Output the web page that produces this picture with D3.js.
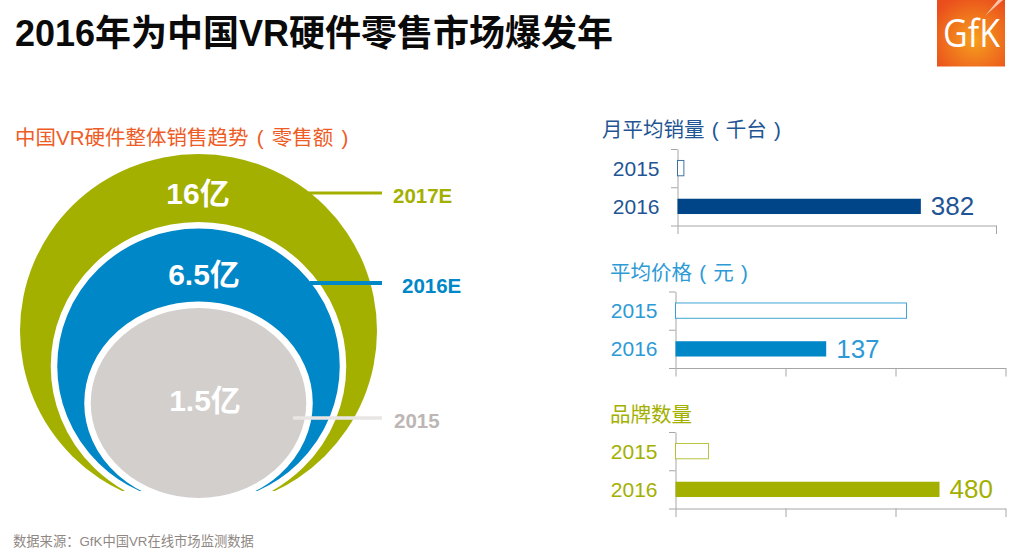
<!DOCTYPE html>
<html>
<head>
<meta charset="utf-8">
<script src="https://cdnjs.cloudflare.com/ajax/libs/d3/7.8.5/d3.min.js"></script>
<style>
    html, body { margin: 0; padding: 0; background: #fff; }
    svg { display: block; }
    text { font-family: "Liberation Sans", "Noto Sans CJK SC", sans-serif; }
    .axis path, .axis line { stroke: #a6a6a6; stroke-width: 1; }
</style>
</head>
<body>
<svg id="grafico" width="1024" height="555"></svg>
<script>
// dados
const years = ["2015", "2016"];
const salesValues = [10, 382];
const priceValues = [210, 137];
const brandValues = [60, 480];
const salesTicks = [0, 500];
const priceTicks = [0, 100, 200, 300];
const brandTicks = [0, 200, 400, 600];

const retailYears = ["2017E", "2016E", "2015"];
const retailValues = [16, 6.5, 1.5];
const retailLabels = ["16亿", "6.5亿", "1.5亿"];

const title = "2016年为中国VR硬件零售市场爆发年";
const retailTitle = "中国VR硬件整体销售趋势 ( 零售额 )";
const sourceText = "数据来源：GfK中国VR在线市场监测数据";

const svg = d3.select("#grafico");

// logo
const defs = svg.append("defs");
const logoGrad = defs.append("radialGradient").attr("id", "logoGrad")
    .attr("cx", "55%").attr("cy", "60%").attr("r", "70%");
logoGrad.append("stop").attr("offset", "0%").attr("stop-color", "#f6a01e");
logoGrad.append("stop").attr("offset", "100%").attr("stop-color", "#ea4e1c");

svg.append("rect").attr("x", 937).attr("y", 0).attr("width", 68).attr("height", 66.5)
    .attr("fill", "url(#logoGrad)");
svg.append("path").attr("d", "M985 16 L1003 0 L998 0 Z").attr("fill", "#f7c3a8");
svg.append("text").attr("x", 943).attr("y", 46.5)
    .attr("font-size", 38).attr("fill", "#fff")
    .attr("textLength", 57).attr("lengthAdjust", "spacingAndGlyphs")
    .style("font-family", "'Open Sans', sans-serif").style("font-weight", 400)
    .text("GfK");

// titulos
svg.append("text").attr("x", 15).attr("y", 46)
    .attr("font-size", 36).attr("font-weight", "bold").attr("fill", "#0a0a0a")
    .text(title);
svg.append("text").attr("x", 15).attr("y", 145)
    .attr("font-size", 20.5).attr("word-spacing", 2.5).attr("fill", "#ee5c25")
    .text(retailTitle);
svg.append("text").attr("x", 13).attr("y", 546)
    .attr("font-size", 13.3).attr("fill", "#8f8783")
    .text(sourceText);

// circulos
const bubbleColor = d3.scaleOrdinal().domain(retailYears).range(["#a3b000", "#0087c8", "#d3cfcd"]);
const labelColor = d3.scaleOrdinal().domain(retailYears).range(["#a3b000", "#0087c8", "#bdb6b4"]);
const leaderColor = d3.scaleOrdinal().domain(retailYears).range(["#a3b000", "#0087c8", "#e8e6e5"]);
const rx = d3.scaleLinear().domain([1.5, 6.5, 16]).range([111, 144.5, 178.5]);
const ry = d3.scaleLinear().domain([1.5, 6.5, 16]).range([98.25, 140.75, 177]);
const cy = d3.scaleLinear().domain([1.5, 6.5, 16]).range([403, 366, 331]);
const cx = 198.5;

// o circulo verde e o azul terminam cortados em baixo
defs.append("clipPath").attr("id", "corte")
    .append("rect").attr("x", 0).attr("y", 0).attr("width", 1024).attr("height", 491);

const bubbles = svg.append("g").selectAll("g")
    .data(retailValues)
    .enter()
    .append("g");

bubbles.append("ellipse")
    .attr("cx", cx)
    .attr("cy", (d) => cy(d))
    .attr("rx", (d) => rx(d))
    .attr("ry", (d) => ry(d))
    .attr("fill", (d, i) => bubbleColor(retailYears[i]))
    .attr("stroke", (d, i) => i == 0 ? "none" : "#fff")
    .attr("stroke-width", 6.5)
    .attr("clip-path", (d, i) => i < 2 ? "url(#corte)" : null);

const leaderStart = d3.scaleOrdinal().domain(retailYears).range([308, 310, 293]);
const leaderY = d3.scaleOrdinal().domain(retailYears).range([193, 283, 418]);
const leaderWidth = d3.scaleOrdinal().domain(retailYears).range([3, 4, 3.5]);
const yearX = d3.scaleOrdinal().domain(retailYears).range([393, 402, 394]);
const valueX = d3.scaleOrdinal().domain(retailYears).range([198, 204, 205]);
const valueY = d3.scaleOrdinal().domain(retailYears).range([204, 285, 411]);

const leaders = svg.append("g").selectAll("g")
    .data(retailYears)
    .enter()
    .append("g");

leaders.append("line")
    .attr("x1", (d) => leaderStart(d))
    .attr("x2", 382)
    .attr("y1", (d) => leaderY(d))
    .attr("y2", (d) => leaderY(d))
    .attr("stroke", (d) => leaderColor(d))
    .attr("stroke-width", (d) => leaderWidth(d));

leaders.append("text")
    .attr("x", (d) => yearX(d))
    .attr("y", (d) => leaderY(d) + 9.5)
    .attr("font-size", 20.5)
    .attr("font-weight", "bold")
    .attr("fill", (d) => labelColor(d))
    .text((d) => d);

leaders.append("text")
    .attr("x", (d) => valueX(d))
    .attr("y", (d) => valueY(d))
    .attr("text-anchor", "middle")
    .attr("font-size", 30)
    .attr("font-weight", "bold")
    .attr("fill", "#fff")
    .text((d, i) => retailLabels[i]);

// barras
function barChart(opt) {
    const x = d3.scaleLinear().domain([0, opt.ticks[opt.ticks.length - 1]]).range([opt.left, opt.right]);
    const y = d3.scaleBand().domain(years).range([opt.top, opt.top + 76.5]).paddingInner(0.6).paddingOuter(0.3);
    const yLine = d3.scaleLinear().domain([0, 2]).range([opt.top, opt.top + 76.5]);

    const g = svg.append("g");

    g.append("text")
        .attr("x", opt.titleX)
        .attr("y", opt.titleY)
        .attr("font-size", 20.5)
        .attr("word-spacing", 1.5)
        .attr("fill", opt.titleColor)
        .text(opt.title);

    g.append("g")
        .attr("class", "axis")
        .attr("transform", `translate(0, ${opt.top + 76.5})`)
        .call(d3.axisBottom(x).tickValues(opt.ticks).tickSize(8.5).tickSizeOuter(0).tickFormat(""));

    g.append("g")
        .attr("class", "axis")
        .attr("transform", `translate(${opt.left}, 0)`)
        .call(d3.axisLeft(yLine).tickValues([0, 1, 2]).tickSize(6.5).tickSizeOuter(0).tickFormat(""));

    g.selectAll(".barra")
        .data(opt.values)
        .enter()
        .append("rect")
        .attr("class", "barra")
        .attr("x", opt.left)
        .attr("y", (d, i) => y(years[i]))
        .attr("width", (d) => x(d) - opt.left)
        .attr("height", y.bandwidth())
        .attr("fill", (d, i) => i == 0 ? "#fff" : opt.color)
        .attr("stroke", (d, i) => i == 0 ? opt.color : "none")
        .attr("stroke-opacity", 0.75)
        .attr("stroke-width", 1);

    g.selectAll(".ano")
        .data(years)
        .enter()
        .append("text")
        .attr("class", "ano")
        .attr("x", opt.left - 18)
        .attr("y", (d) => y(d) + y.bandwidth() / 2 + 7.5)
        .attr("text-anchor", "end")
        .attr("font-size", 21)
        .attr("fill", opt.textColor)
        .text((d) => d);

    g.append("text")
        .attr("x", x(opt.values[1]) + 10)
        .attr("y", y(years[1]) + y.bandwidth() / 2 + 9)
        .attr("font-size", 26)
        .attr("fill", opt.textColor)
        .text(opt.values[1]);
}

barChart({
    title: "月平均销量 ( 千台 )", titleX: 602, titleY: 137, titleColor: "#1f5594", values: salesValues, ticks: salesTicks,
    left: 677.5, right: 996, top: 149, color: "#004587", textColor: "#1f5594"
});
barChart({
    title: "平均价格 ( 元 )", titleX: 610, titleY: 280, titleColor: "#2d9ad6", values: priceValues, ticks: priceTicks,
    left: 675.5, right: 1005.5, top: 291.5, color: "#0087c8", textColor: "#2d9ad6"
});
barChart({
    title: "品牌数量", titleX: 610, titleY: 422, titleColor: "#a3b000", values: brandValues, ticks: brandTicks,
    left: 675.5, right: 1005.5, top: 432, color: "#a3b000", textColor: "#a3b000"
});
</script>
</body>
</html>
